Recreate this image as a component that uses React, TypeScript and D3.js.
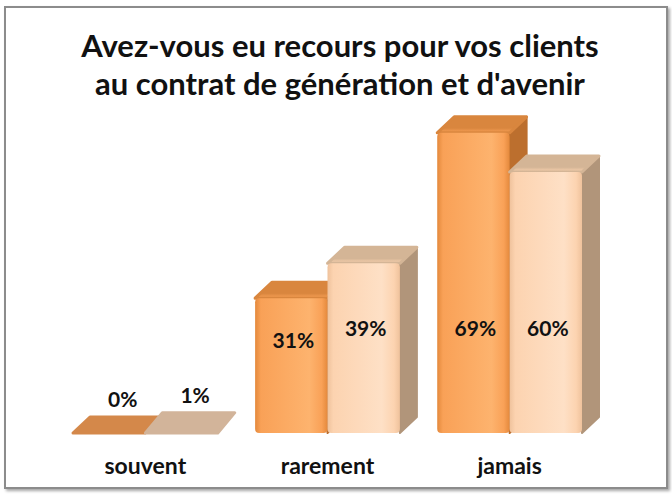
import React from "react";
import * as d3 from "d3";

// data
const categories = ["souvent", "rarement", "jamais"];
const series = ["a", "b"];
const valuesA = [0, 31, 69];
const valuesB = [1, 39, 60];
const titleLines = [
  "Avez-vous eu recours pour vos clients",
  "au contrat de génération et d'avenir",
];

const W = 672;
const H = 494;
const base = 433;
const DX = 17;
const DY = -16;
const font = "Lato, 'Open Sans', sans-serif";

// colors for each series: front, highlight, edge, top, side, flat (near-zero bars)
const palette = [
  { front: "#F9A157", light: "#FDB36E", edge: "#E4893C", top: "#D9863E", side: "#BC6F2E", flat: "#D4884A" },
  { front: "#FCD3B0", light: "#FEE0C6", edge: "#EFC29C", top: "#D4B596", side: "#B1957A", flat: "#D2B49A" },
];

const App: React.FC = () => {
  const x0 = d3.scaleBand<string>().domain(categories).range([73, 582]).paddingInner(0.205);
  const x1 = d3.scaleBand<string>().domain(series).range([0, x0.bandwidth()]);
  const y = d3.scaleLinear().domain([0, 80]).range([base, 85]);
  const w = x1.bandwidth();

  const rows = categories.map((c, i) => [valuesA[i], valuesB[i]]);

  return (
    <svg width={W} height={H} style={{ position: "absolute", left: 0, top: 0, background: "#fff" }}>
      <defs>
        <filter id="shadow" x="-5%" y="-5%" width="110%" height="110%">
          <feDropShadow dx="2" dy="2" stdDeviation="1.5" floodColor="#000" floodOpacity="0.35" />
        </filter>
        {palette.map((p, i) => (
          <linearGradient key={i} id={`front${i}`} x1="0" x2="1" y1="0" y2="0">
            <stop offset="0%" stopColor={p.edge} />
            <stop offset="8%" stopColor={p.front} />
            <stop offset="75%" stopColor={p.light} />
            <stop offset="92%" stopColor={p.front} />
            <stop offset="100%" stopColor={p.edge} />
          </linearGradient>
        ))}
        {palette.map((p, i) => (
          <linearGradient key={i} id={`top${i}`} x1="0" x2="0" y1="1" y2="0">
            <stop offset="0%" stopColor={p.front} />
            <stop offset="30%" stopColor={p.top} />
            <stop offset="100%" stopColor={p.top} />
          </linearGradient>
        ))}
      </defs>

      <rect x={5} y={7} width={662} height={481} fill="#fff" stroke="#8c8c8c" strokeWidth={2} filter="url(#shadow)" />

      <g fontFamily={font} fontWeight="bold" fill="#111" textAnchor="middle">
        {titleLines.map((t, i) => (
          <text key={i} x={340} y={57 + i * 38} fontSize={31}>
            {t}
          </text>
        ))}
      </g>

      {categories.map((c, ci) => (
        <g key={c}>
          {rows[ci].map((v, si) => {
            const p = palette[si];
            const x = (x0(c) ?? 0) + (x1(series[si]) ?? 0);
            const yt = y(v);
            const small = v < 5;
            if (small) {
              // near-zero bars: only the flat slab shows
              return (
                <polygon
                  key={si}
                  points={`${x},${base} ${x + DX},${yt + DY} ${x + w + DX},${yt + DY} ${x + w},${base}`}
                  fill={p.flat}
                  stroke={p.flat}
                  strokeLinejoin="round"
                  strokeWidth={3}
                />
              );
            }
            return (
              <g key={si}>
                <polygon
                  points={`${x + w},${yt} ${x + w + DX},${yt + DY} ${x + w + DX},${base + DY} ${x + w},${base}`}
                  fill={p.side}
                  stroke={p.side}
                  strokeLinejoin="round"
                  strokeWidth={2}
                />
                <polygon
                  points={`${x},${yt} ${x + DX},${yt + DY} ${x + w + DX},${yt + DY} ${x + w},${yt}`}
                  fill={`url(#top${si})`}
                  stroke={p.top}
                  strokeLinejoin="round"
                  strokeWidth={3}
                />
                <rect x={x} y={yt} width={w} height={base - yt} rx={4} fill={`url(#front${si})`} />
              </g>
            );
          })}
          {rows[ci].map((v, si) => {
            const x = (x0(c) ?? 0) + (x1(series[si]) ?? 0);
            const small = v < 5;
            const cx = small ? x + w / 2 + DX / 2 + 5 : x + w / 2 + 2;
            const cy = small ? y(v) + DY - 17 : Math.max(y(v) + 42, y(24));
            return (
              <text
                key={`l${si}`}
                x={cx}
                y={cy}
                dy="0.35em"
                textAnchor="middle"
                fontFamily={font}
                fontWeight="bold"
                fontSize={21}
                fill="#111"
              >
                {v}%
              </text>
            );
          })}
          <text
            x={(x0(c) ?? 0) + x0.bandwidth() / 2}
            y={474}
            textAnchor="middle"
            fontFamily={font}
            fontWeight="bold"
            fontSize={23}
            fill="#111"
          >
            {c}
          </text>
        </g>
      ))}
    </svg>
  );
};

export default App;
